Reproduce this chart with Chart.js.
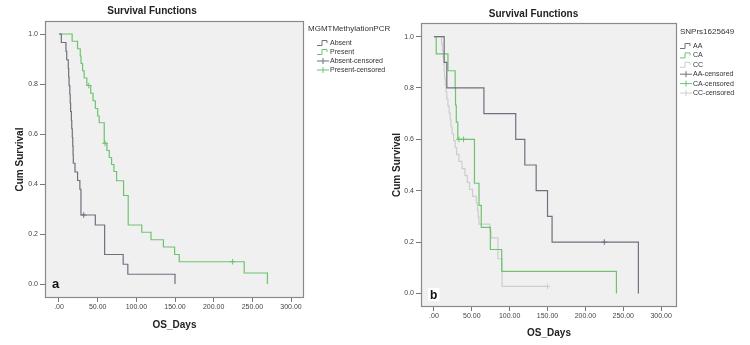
<!DOCTYPE html>
<html><head><meta charset="utf-8">
<script src="https://cdn.jsdelivr.net/npm/chart.js@4.4.1/dist/chart.umd.min.js"></script>
<style>
html,body{margin:0;padding:0;background:#fff;width:750px;height:345px;overflow:hidden;position:relative}
.panel{position:absolute;top:0;height:345px}
#pa{left:0;width:409px}
#pb{left:390px;width:375px}
</style></head><body>
<div class="panel" id="pa"><canvas id="ca"></canvas></div>
<div class="panel" id="pb"><canvas id="cb"></canvas></div>
<script>
// ---------- tick labels ----------
const xTickValues = [0, 50, 100, 150, 200, 250, 300];
const xTickLabels = ['.00', '50.00', '100.00', '150.00', '200.00', '250.00', '300.00'];
const yTickValues = [0, 0.2, 0.4, 0.6, 0.8, 1.0];
const yTickLabels = ['0.0', '0.2', '0.4', '0.6', '0.8', '1.0'];

// ---------- panel a : MGMTMethylationPCR ----------
const absentDays = [0, 3, 9, 10, 12, 12.5, 13, 14, 14.5, 15, 16, 16.5, 17.2, 17.8, 18.2, 18.5, 20.7, 24, 27, 28.4, 47, 59, 83, 89, 150];
const absentSurv = [1.0, 0.966, 0.931, 0.897, 0.862, 0.828, 0.793, 0.759, 0.724, 0.690, 0.655, 0.621, 0.586, 0.552, 0.517, 0.483, 0.448, 0.414, 0.379, 0.276, 0.236, 0.118, 0.079, 0.039, 0.0];
const absentCensorDays = [32];
const absentCensorSurv = [0.276];

const presentDays = [0, 17, 24, 27.5, 28.5, 30.5, 32.5, 36, 41, 44, 47, 50, 52, 58.5, 62, 65, 68, 71, 74.5, 83.5, 89.5, 107, 119, 135, 149.5, 155.5, 239.5, 269.5];
const presentSurv = [1.0, 0.971, 0.941, 0.912, 0.882, 0.853, 0.824, 0.794, 0.763, 0.733, 0.702, 0.672, 0.645, 0.563, 0.534, 0.506, 0.478, 0.450, 0.413, 0.354, 0.236, 0.207, 0.177, 0.148, 0.118, 0.089, 0.044, 0.0];
const presentCensorDays = [38.5, 59.5, 224.5];
const presentCensorSurv = [0.794, 0.563, 0.089];

// ---------- panel b : SNPrs1625649 ----------
const aaDays = [0, 13.5, 17, 66, 108, 120, 135, 150, 156, 270];
const aaSurv = [1.0, 0.9, 0.8, 0.7, 0.6, 0.5, 0.4, 0.3, 0.2, 0.0];
const aaCensorDays = [225];
const aaCensorSurv = [0.2];

const caDays = [0, 3, 18.5, 28, 28.5, 29.5, 31.5, 53.5, 59.5, 62.5, 74.5, 89.5, 241];
const caSurv = [1.0, 0.933, 0.867, 0.8, 0.733, 0.667, 0.6, 0.429, 0.343, 0.257, 0.171, 0.086, 0.0];
const caCensorDays = [33, 39];
const caCensorSurv = [0.6, 0.6];

const ccDays = [0, 10, 11, 12, 13, 13.5, 14, 15, 16, 17, 18.5, 20, 21.5, 22.5, 24, 26, 28, 30, 33, 37, 41, 44, 47, 51, 56, 57.5, 58.5, 59.5, 74, 75.5, 84.5, 90, 150];
const ccSurv = [1.0, 0.973, 0.946, 0.919, 0.892, 0.865, 0.838, 0.811, 0.784, 0.757, 0.730, 0.703, 0.676, 0.649, 0.622, 0.595, 0.568, 0.541, 0.514, 0.486, 0.459, 0.432, 0.405, 0.378, 0.351, 0.324, 0.297, 0.270, 0.243, 0.216, 0.135, 0.027, 0.027];
const ccCensorDays = [150];
const ccCensorSurv = [0.027];

// ---------- styling ----------
const FONT = '"Liberation Sans", Arial, Helvetica, sans-serif';
const C_DARK = '#70707f';
const C_GREEN = '#6fc370';
const C_LIGHT = '#cdcdcd';

function toXY(days, surv) { return days.map((d, i) => ({x: d, y: surv[i]})); }
function stepDS(label, days, surv, color) {
  return {label, data: toXY(days, surv), borderColor: color, backgroundColor: color,
    borderWidth: 1.2, stepped: 'before', pointRadius: 0, pointHoverRadius: 0, fill: false, kind: 'step'};
}
function censorDS(label, days, surv, color) {
  return {label, data: toXY(days, surv), borderColor: color, backgroundColor: color,
    showLine: false, pointStyle: 'cross', pointRadius: 2.8, pointBorderWidth: 1, kind: 'censor'};
}

const kmPlugin = {
  id: 'km',
  beforeDraw(chart) {
    const {ctx, chartArea: a} = chart;
    ctx.save();
    ctx.fillStyle = '#f0f0f0';
    ctx.fillRect(a.left, a.top, a.right - a.left, a.bottom - a.top);
    ctx.restore();
  },
  afterDraw(chart, args, o) {
    const {ctx, chartArea: a} = chart;
    ctx.save();
    ctx.strokeStyle = '#8a8a8a';
    ctx.lineWidth = 1.2;
    ctx.strokeRect(a.left + 0.5, a.top + 0.5, a.right - a.left - 1, a.bottom - a.top - 1);
    ctx.font = 'bold ' + o.letterSize + 'px ' + FONT;
    ctx.textBaseline = 'alphabetic';
    ctx.textAlign = 'left';
    if (o.letterBox) {
      const w = ctx.measureText(o.letter).width;
      ctx.fillStyle = '#ffffff';
      ctx.fillRect(o.letterX - 2, o.letterY - o.letterSize + 1, w + 4, o.letterSize + 1);
    }
    ctx.fillStyle = '#111';
    ctx.fillText(o.letter, o.letterX, o.letterY);
    ctx.textBaseline = 'middle';
    ctx.fillStyle = '#333';
    ctx.font = o.titleSize + 'px ' + FONT;
    ctx.fillText(o.title, o.titleX, o.titleY);
    ctx.font = o.itemSize + 'px ' + FONT;
    chart.data.datasets.forEach((ds, i) => {
      const y = o.itemY0 + i * o.itemStep;
      const x = o.iconX;
      ctx.strokeStyle = ds.borderColor;
      ctx.lineWidth = 1;
      ctx.beginPath();
      if (ds.kind === 'step') {
        ctx.moveTo(x, y + 2.5); ctx.lineTo(x + 5, y + 2.5); ctx.lineTo(x + 5, y - 2.5);
        ctx.lineTo(x + 10, y - 2.5); ctx.lineTo(x + 10, y);
      } else {
        ctx.moveTo(x, y); ctx.lineTo(x + 12, y);
        ctx.moveTo(x + 6, y - 3); ctx.lineTo(x + 6, y + 3);
      }
      ctx.stroke();
      ctx.fillStyle = '#333';
      ctx.fillText(ds.label, o.textX, y);
    });
    ctx.restore();
  }
};

function makeOptions(p) {
  return {
    responsive: true, maintainAspectRatio: false, animation: false, devicePixelRatio: 1,
    layout: {padding: {left: 0, right: p.padRight, top: 0, bottom: 0}},
    plugins: {
      legend: {display: false},
      tooltip: {enabled: false},
      title: {display: true, text: 'Survival Functions', color: '#222',
        font: {family: FONT, size: 10, weight: 'bold', lineHeight: 1.2},
        padding: {top: p.titleTop, bottom: p.titleBottom}},
      km: p.km
    },
    scales: {
      x: {
        type: 'linear', min: p.xMin, max: p.xMax,
        afterBuildTicks: s => { s.ticks = xTickValues.map(v => ({value: v})); },
        afterFit: s => { s.height = p.xHeight; },
        ticks: {callback: (v, i) => xTickLabels[i], color: '#444', font: {family: FONT, size: 7},
          padding: 1, maxRotation: 0, autoSkip: false},
        grid: {drawOnChartArea: false, drawTicks: true, tickLength: 4, color: '#777'},
        border: {display: false},
        title: {display: true, text: 'OS_Days', color: '#222',
          font: {family: FONT, size: 10, weight: 'bold', lineHeight: 1.2},
          padding: {top: 0, bottom: p.xTitleBottom}}
      },
      y: {
        type: 'linear', min: p.yMin, max: p.yMax,
        afterBuildTicks: s => { s.ticks = yTickValues.map(v => ({value: v})); },
        afterFit: s => { s.width = p.yWidth; },
        ticks: {callback: (v, i) => yTickLabels[i], color: '#444', font: {family: FONT, size: 7}, padding: 2},
        grid: {drawOnChartArea: false, drawTicks: true, tickLength: 5, color: '#777'},
        border: {display: false},
        title: {display: true, text: 'Cum Survival', color: '#222',
          font: {family: FONT, size: 10, weight: 'bold', lineHeight: 1.2},
          padding: {top: p.yTitleTop, bottom: 0}}
      }
    }
  };
}

new Chart(document.getElementById('ca'), {
  type: 'line',
  data: {datasets: [
    stepDS('Absent', absentDays, absentSurv, C_DARK),
    stepDS('Present', presentDays, presentSurv, C_GREEN),
    censorDS('Absent-censored', absentCensorDays, absentCensorSurv, C_DARK),
    censorDS('Present-censored', presentCensorDays, presentCensorSurv, C_GREEN)
  ]},
  options: makeOptions({
    padRight: 105, titleTop: 5, titleBottom: 4, xHeight: 47, xTitleBottom: 14,
    yWidth: 45, yTitleTop: 14,
    xMin: -18.1, xMax: 316.8, yMin: -0.056, yMax: 1.052,
    km: {letter: 'a', letterSize: 13, letterX: 52, letterY: 288, letterBox: false,
      title: 'MGMTMethylationPCR', titleSize: 8, titleX: 308, titleY: 28.5,
      itemSize: 7, iconX: 317, textX: 330, itemY0: 43, itemStep: 9}
  }),
  plugins: [kmPlugin]
});

new Chart(document.getElementById('cb'), {
  type: 'line',
  data: {datasets: [
    stepDS('AA', aaDays, aaSurv, C_DARK),
    stepDS('CA', caDays, caSurv, C_GREEN),
    stepDS('CC', ccDays, ccSurv, C_LIGHT),
    censorDS('AA-censored', aaCensorDays, aaCensorSurv, C_DARK),
    censorDS('CA-censored', caCensorDays, caCensorSurv, C_GREEN),
    censorDS('CC-censored', ccCensorDays, ccCensorSurv, C_LIGHT)
  ]},
  options: makeOptions({
    padRight: 88, titleTop: 8, titleBottom: 3, xHeight: 38, xTitleBottom: 6,
    yWidth: 31, yTitleTop: 1,
    xMin: -17.1, xMax: 321, yMin: -0.053, yMax: 1.053,
    km: {letter: 'b', letterSize: 12, letterX: 40, letterY: 299, letterBox: true,
      title: 'SNPrs1625649', titleSize: 8, titleX: 290, titleY: 32,
      itemSize: 7, iconX: 290, textX: 303, itemY0: 46, itemStep: 9.4}
  }),
  plugins: [kmPlugin]
});
</script>
</body></html>
